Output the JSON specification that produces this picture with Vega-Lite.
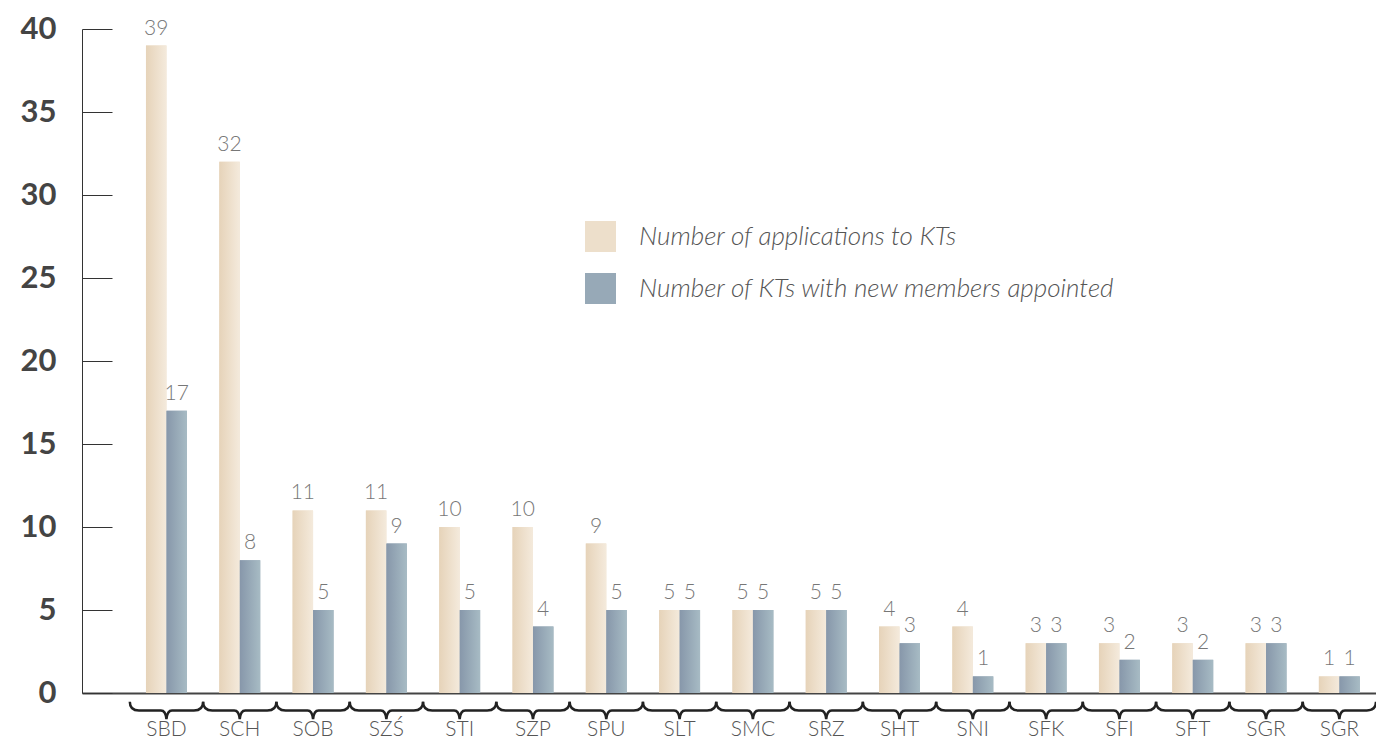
{
  "$schema": "https://vega.github.io/schema/vega-lite/v6.json",
  "autosize": "none",
  "width": 1294,
  "height": 664,
  "padding": {"left": 82, "top": 29, "right": 0, "bottom": 47},
  "background": "white",
  "config": {"view": {"stroke": null}},
  "datasets": {
    "bars": [
      {"idx": 1, "unit": "SBD", "series": "Number of applications to KTs", "value": 39},
      {"idx": 1, "unit": "SBD", "series": "Number of KTs with new members appointed", "value": 17},
      {"idx": 2, "unit": "SCH", "series": "Number of applications to KTs", "value": 32},
      {"idx": 2, "unit": "SCH", "series": "Number of KTs with new members appointed", "value": 8},
      {"idx": 3, "unit": "SOB", "series": "Number of applications to KTs", "value": 11},
      {"idx": 3, "unit": "SOB", "series": "Number of KTs with new members appointed", "value": 5},
      {"idx": 4, "unit": "SZŚ", "series": "Number of applications to KTs", "value": 11},
      {"idx": 4, "unit": "SZŚ", "series": "Number of KTs with new members appointed", "value": 9},
      {"idx": 5, "unit": "STI", "series": "Number of applications to KTs", "value": 10},
      {"idx": 5, "unit": "STI", "series": "Number of KTs with new members appointed", "value": 5},
      {"idx": 6, "unit": "SZP", "series": "Number of applications to KTs", "value": 10},
      {"idx": 6, "unit": "SZP", "series": "Number of KTs with new members appointed", "value": 4},
      {"idx": 7, "unit": "SPU", "series": "Number of applications to KTs", "value": 9},
      {"idx": 7, "unit": "SPU", "series": "Number of KTs with new members appointed", "value": 5},
      {"idx": 8, "unit": "SLT", "series": "Number of applications to KTs", "value": 5},
      {"idx": 8, "unit": "SLT", "series": "Number of KTs with new members appointed", "value": 5},
      {"idx": 9, "unit": "SMC", "series": "Number of applications to KTs", "value": 5},
      {"idx": 9, "unit": "SMC", "series": "Number of KTs with new members appointed", "value": 5},
      {"idx": 10, "unit": "SRZ", "series": "Number of applications to KTs", "value": 5},
      {"idx": 10, "unit": "SRZ", "series": "Number of KTs with new members appointed", "value": 5},
      {"idx": 11, "unit": "SHT", "series": "Number of applications to KTs", "value": 4},
      {"idx": 11, "unit": "SHT", "series": "Number of KTs with new members appointed", "value": 3},
      {"idx": 12, "unit": "SNI", "series": "Number of applications to KTs", "value": 4},
      {"idx": 12, "unit": "SNI", "series": "Number of KTs with new members appointed", "value": 1},
      {"idx": 13, "unit": "SFK", "series": "Number of applications to KTs", "value": 3},
      {"idx": 13, "unit": "SFK", "series": "Number of KTs with new members appointed", "value": 3},
      {"idx": 14, "unit": "SFI", "series": "Number of applications to KTs", "value": 3},
      {"idx": 14, "unit": "SFI", "series": "Number of KTs with new members appointed", "value": 2},
      {"idx": 15, "unit": "SFT", "series": "Number of applications to KTs", "value": 3},
      {"idx": 15, "unit": "SFT", "series": "Number of KTs with new members appointed", "value": 2},
      {"idx": 16, "unit": "SGR", "series": "Number of applications to KTs", "value": 3},
      {"idx": 16, "unit": "SGR", "series": "Number of KTs with new members appointed", "value": 3},
      {"idx": 17, "unit": "SGR", "series": "Number of applications to KTs", "value": 1},
      {"idx": 17, "unit": "SGR", "series": "Number of KTs with new members appointed", "value": 1}
    ]
  },
  "data": {"name": "bars"},
  "encoding": {
    "x": {
      "field": "idx",
      "type": "ordinal",
      "scale": {"paddingInner": 0, "paddingOuter": 0.326, "align": 1},
      "axis": {
        "title": null,
        "labelExpr": "['SBD','SCH','SOB','SZŚ','STI','SZP','SPU','SLT','SMC','SRZ','SHT','SNI','SFK','SFI','SFT','SGR','SGR'][datum.value-1]",
        "labelAngle": 0,
        "labelFont": "Lato",
        "labelFontWeight": 300,
        "labelFontSize": 21,
        "labelColor": "#555555",
        "labelPadding": 25,
        "ticks": false,
        "domainColor": "#444444",
        "domainWidth": 2
      }
    },
    "y": {
      "field": "value",
      "type": "quantitative",
      "scale": {"domain": [0, 40], "nice": false},
      "axis": {
        "title": null,
        "values": [0, 5, 10, 15, 20, 25, 30, 35, 40],
        "grid": false,
        "tickSize": -30,
        "tickColor": "#333333",
        "tickWidth": 1,
        "domainColor": "#333333",
        "domainWidth": 1,
        "labelFont": "Lato",
        "labelFontWeight": "bold",
        "labelFontSize": 31,
        "labelColor": "#444444",
        "labelPadding": 56
      }
    },
    "xOffset": {
      "field": "series",
      "type": "nominal",
      "scale": {
        "domain": ["Number of applications to KTs", "Number of KTs with new members appointed"],
        "paddingOuter": 0.79,
        "paddingInner": 0
      }
    }
  },
  "layer": [
    {
      "mark": {"type": "bar"},
      "encoding": {
        "color": {
          "field": "series",
          "type": "nominal",
          "scale": {
            "domain": ["Number of applications to KTs", "Number of KTs with new members appointed"],
            "range": ["#eddfcb", "#97a9b7"]
          },
          "legend": {
            "title": null,
            "orient": "none",
            "legendX": 503,
            "legendY": 192,
            "symbolType": "square",
            "symbolSize": 961,
            "symbolStrokeWidth": 0,
            "symbolOpacity": 1,
            "labelFont": "Lato",
            "labelFontStyle": "italic",
            "labelFontWeight": 300,
            "labelFontSize": 26,
            "labelColor": "#555555",
            "labelOffset": 23,
            "rowPadding": 21,
            "labelLimit": 700
          }
        }
      }
    },
    {
      "transform": [{"filter": "datum.series == 'Number of applications to KTs'"}],
      "mark": {
        "type": "bar",
        "color": {"gradient": "linear", "x1": 0, "x2": 1, "y1": 0, "y2": 0, "stops": [{"offset": 0, "color": "#e6d3b9"}, {"offset": 1, "color": "#f4eadc"}]}
      }
    },
    {
      "transform": [{"filter": "datum.series == 'Number of KTs with new members appointed'"}],
      "mark": {
        "type": "bar",
        "color": {"gradient": "linear", "x1": 0, "x2": 1, "y1": 0, "y2": 0, "stops": [{"offset": 0, "color": "#8797aa"}, {"offset": 1, "color": "#a7bbc4"}]}
      }
    },
    {
      "mark": {"type": "text", "dy": -7, "font": "Lato", "fontWeight": 300, "fontSize": 21, "color": "#777777", "baseline": "bottom"},
      "encoding": {
        "text": {"field": "value", "type": "quantitative"}
      }
    },
    {
      "transform": [{"filter": "datum.series == 'Number of applications to KTs'"}],
      "mark": {
        "type": "point",
        "shape": "M -1 -0.24 Q -1 0 -0.75 0 L -0.15 0 Q -0.02 0 0 0.24 Q 0.02 0 0.15 0 L 0.75 0 Q 1 0 1 -0.24",
        "size": 5370,
        "filled": false,
        "stroke": "#222222",
        "strokeWidth": 2.5,
        "opacity": 1
      },
      "encoding": {
        "xOffset": null,
        "y": {"datum": -1.05}
      }
    }
  ]
}
